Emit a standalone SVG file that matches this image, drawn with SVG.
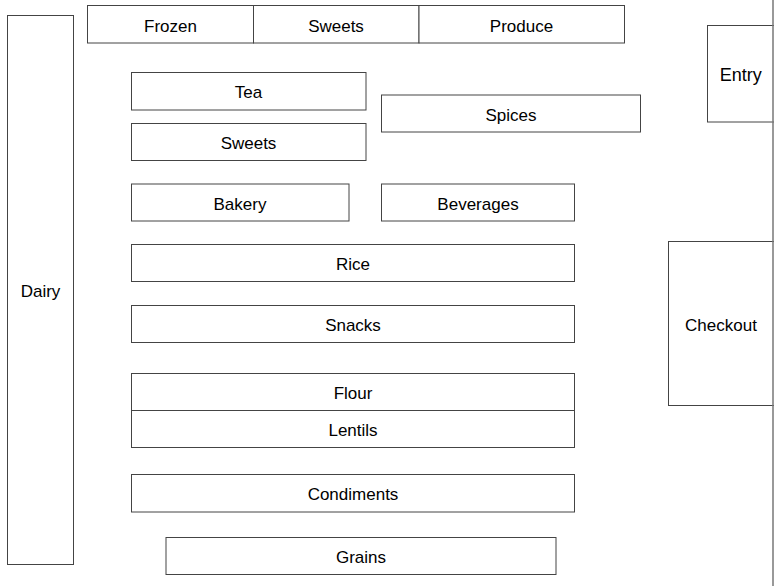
<svg xmlns="http://www.w3.org/2000/svg" width="774" height="586" viewBox="0 0 774 586">
<style>
rect{fill:#fff;stroke:#444;stroke-width:1}
line{stroke:#777;stroke-width:1.5}
text{font-family:"Liberation Sans",Arial,sans-serif;font-size:17px;fill:#000;text-anchor:middle}
</style>
<rect x="0" y="0" width="774" height="586" style="stroke:none"/>
<g id="dairy"><rect x="7.5" y="15.5" width="66" height="549"/><text x="40.5" y="297">Dairy</text></g>
<g id="frozen"><rect x="87.5" y="5.5" width="166" height="37.5"/><text x="170.5" y="32">Frozen</text></g>
<g id="sweets-top"><rect x="253.5" y="5.5" width="165.5" height="37.5"/><text x="336" y="32">Sweets</text></g>
<g id="produce"><rect x="419" y="5.5" width="205.5" height="37.5"/><text x="521.5" y="32">Produce</text></g>
<g id="entry"><rect x="707.5" y="25.5" width="70" height="96.5"/><text x="740.7" y="80.5" style="font-size:18px">Entry</text></g>
<g id="tea"><rect x="131.5" y="72.5" width="234.5" height="37.5"/><text x="248.5" y="98">Tea</text></g>
<g id="spices"><rect x="381.5" y="95" width="259" height="37"/><text x="511" y="121">Spices</text></g>
<g id="sweets"><rect x="131.5" y="123.5" width="234.5" height="37"/><text x="248.5" y="149">Sweets</text></g>
<g id="bakery"><rect x="131.5" y="184" width="217.5" height="37"/><text x="240" y="210">Bakery</text></g>
<g id="beverages"><rect x="381.5" y="184" width="193" height="37"/><text x="478" y="210">Beverages</text></g>
<g id="rice"><rect x="131.5" y="244.5" width="443" height="37"/><text x="353" y="270">Rice</text></g>
<g id="checkout"><rect x="668.5" y="241.5" width="109" height="164"/><text x="721" y="331">Checkout</text></g>
<g id="snacks"><rect x="131.5" y="305.5" width="443" height="37"/><text x="353" y="331">Snacks</text></g>
<g id="flour"><rect x="131.5" y="373.5" width="443" height="37"/><text x="353" y="399">Flour</text></g>
<g id="lentils"><rect x="131.5" y="410.5" width="443" height="37"/><text x="353" y="436">Lentils</text></g>
<g id="condiments"><rect x="131.5" y="474.5" width="443" height="37.5"/><text x="353" y="500">Condiments</text></g>
<g id="grains"><rect x="166" y="537.5" width="390" height="37"/><text x="361" y="563">Grains</text></g>
<g id="wall"><line x1="773" y1="0" x2="773" y2="586"/></g>
<g id="connectors"></g>
</svg>
